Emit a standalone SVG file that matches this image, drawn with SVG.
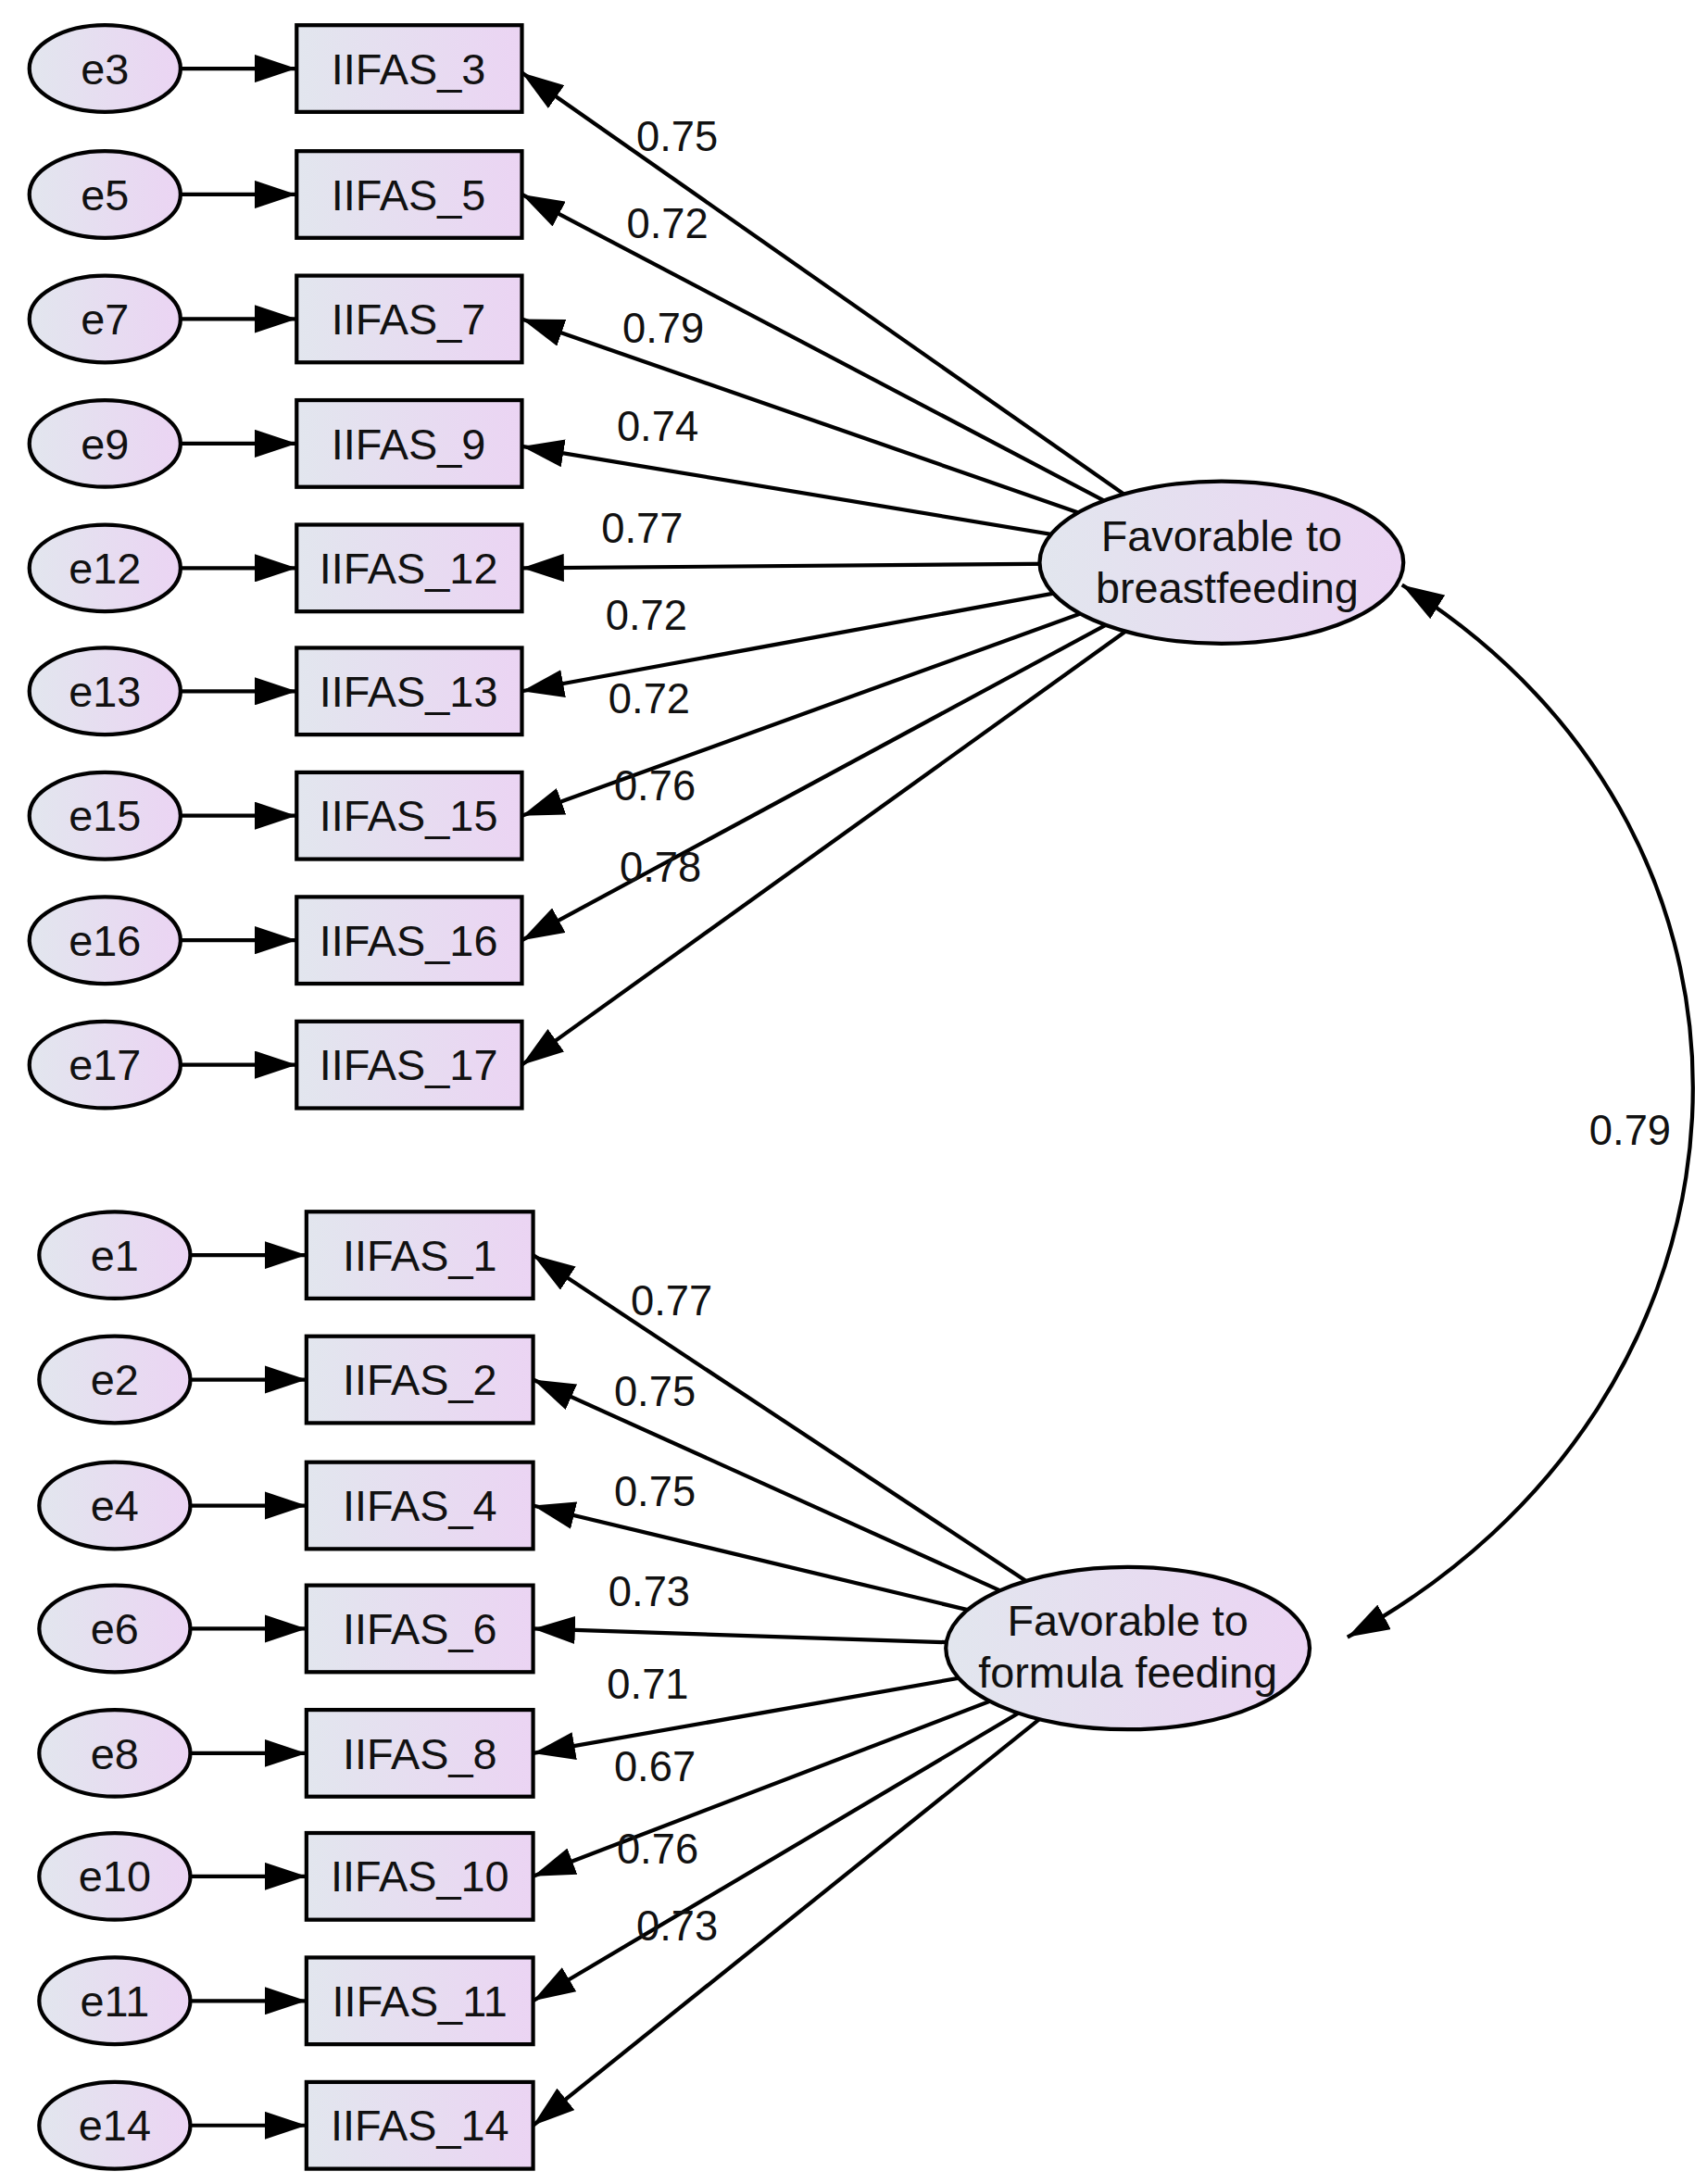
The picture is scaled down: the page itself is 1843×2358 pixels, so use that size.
<svg xmlns="http://www.w3.org/2000/svg" width="1843" height="2358" viewBox="0 0 1843 2358">
<defs>
<linearGradient id="gr" x1="0" y1="0" x2="1" y2="0"><stop offset="0" stop-color="#e2e6ee"/><stop offset="1" stop-color="#ebd4f3"/></linearGradient>
<marker id="ar" viewBox="0 0 30 20" refX="30" refY="10" markerWidth="30" markerHeight="20" markerUnits="userSpaceOnUse" orient="auto-start-reverse"><path d="M0,0 L30,10 L0,20 Z" fill="#000"/></marker>
<style>
.n{fill:url(#gr);stroke:#000;stroke-width:2.8}
.t{font-family:"Liberation Sans",Arial,sans-serif;font-size:31px;fill:#111;text-anchor:middle}
.l{font-family:"Liberation Sans",Arial,sans-serif;font-size:30px;fill:#111;text-anchor:middle}
.c{stroke:#000;stroke-width:2.8;fill:none;marker-end:url(#ar)}
</style>
</defs>
<rect width="1843" height="2358" fill="#fff"/>
<g transform="scale(1.5107)">
<g id="connectors">
<path class="c" d="M129,49H212"/><path class="c" d="M129,139H212"/><path class="c" d="M129,228H212"/><path class="c" d="M129,317H212"/><path class="c" d="M129,406H212"/><path class="c" d="M129,494H212"/><path class="c" d="M129,583H212"/><path class="c" d="M129,672H212"/><path class="c" d="M129,761H212"/>
<path class="c" d="M136,897H219"/><path class="c" d="M136,986H219"/><path class="c" d="M136,1076H219"/><path class="c" d="M136,1164H219"/><path class="c" d="M136,1253H219"/><path class="c" d="M136,1341H219"/><path class="c" d="M136,1430H219"/><path class="c" d="M136,1519H219"/>
<path class="c" d="M873,402L373,52"/><path class="c" d="M873,402L373,139"/><path class="c" d="M873,402L373,228"/><path class="c" d="M873,402L373,319"/><path class="c" d="M873,402L373,406"/><path class="c" d="M873,402L373,494"/><path class="c" d="M873,402L373,583"/><path class="c" d="M873,402L373,672"/><path class="c" d="M873,402L373,761"/>
<path class="c" d="M806,1178L381,897"/><path class="c" d="M806,1178L381,986"/><path class="c" d="M806,1178L381,1076"/><path class="c" d="M806,1178L381,1164"/><path class="c" d="M806,1178L381,1253"/><path class="c" d="M806,1178L381,1341"/><path class="c" d="M806,1178L381,1430"/><path class="c" d="M806,1178L381,1519"/>
<path class="c" style="marker-start:url(#ar)" d="M1002,418C1295,600 1275,1000 963,1170"/>
</g>
<g id="labels">
<text class="l" x="484" y="108">0.75</text><text class="l" x="477" y="170">0.72</text><text class="l" x="474" y="245">0.79</text><text class="l" x="470" y="315">0.74</text><text class="l" x="459" y="388">0.77</text><text class="l" x="462" y="450">0.72</text><text class="l" x="464" y="510">0.72</text><text class="l" x="468" y="572">0.76</text><text class="l" x="472" y="630">0.78</text>
<text class="l" x="480" y="940">0.77</text><text class="l" x="468" y="1005">0.75</text><text class="l" x="468" y="1076">0.75</text><text class="l" x="464" y="1148">0.73</text><text class="l" x="463" y="1214">0.71</text><text class="l" x="468" y="1273">0.67</text><text class="l" x="470" y="1332">0.76</text><text class="l" x="484" y="1387">0.73</text>
<text class="l" x="1165" y="818">0.79</text>
</g>
<g id="f1"><ellipse class="n" cx="873" cy="402" rx="130" ry="58"/><text class="t" x="873" y="394">Favorable to</text><text class="t" x="877" y="431">breastfeeding</text></g>
<g id="f2"><ellipse class="n" cx="806" cy="1178" rx="130" ry="58"/><text class="t" x="806" y="1169">Favorable to</text><text class="t" x="806" y="1206">formula feeding</text></g>
<g id="e3"><ellipse class="n" cx="75" cy="49" rx="54" ry="31"/><text class="t" x="75" y="60">e3</text></g>
<g id="e5"><ellipse class="n" cx="75" cy="139" rx="54" ry="31"/><text class="t" x="75" y="150">e5</text></g>
<g id="e7"><ellipse class="n" cx="75" cy="228" rx="54" ry="31"/><text class="t" x="75" y="239">e7</text></g>
<g id="e9"><ellipse class="n" cx="75" cy="317" rx="54" ry="31"/><text class="t" x="75" y="328">e9</text></g>
<g id="e12"><ellipse class="n" cx="75" cy="406" rx="54" ry="31"/><text class="t" x="75" y="417">e12</text></g>
<g id="e13"><ellipse class="n" cx="75" cy="494" rx="54" ry="31"/><text class="t" x="75" y="505">e13</text></g>
<g id="e15"><ellipse class="n" cx="75" cy="583" rx="54" ry="31"/><text class="t" x="75" y="594">e15</text></g>
<g id="e16"><ellipse class="n" cx="75" cy="672" rx="54" ry="31"/><text class="t" x="75" y="683">e16</text></g>
<g id="e17"><ellipse class="n" cx="75" cy="761" rx="54" ry="31"/><text class="t" x="75" y="772">e17</text></g>
<g id="e1"><ellipse class="n" cx="82" cy="897" rx="54" ry="31"/><text class="t" x="82" y="908">e1</text></g>
<g id="e2"><ellipse class="n" cx="82" cy="986" rx="54" ry="31"/><text class="t" x="82" y="997">e2</text></g>
<g id="e4"><ellipse class="n" cx="82" cy="1076" rx="54" ry="31"/><text class="t" x="82" y="1087">e4</text></g>
<g id="e6"><ellipse class="n" cx="82" cy="1164" rx="54" ry="31"/><text class="t" x="82" y="1175">e6</text></g>
<g id="e8"><ellipse class="n" cx="82" cy="1253" rx="54" ry="31"/><text class="t" x="82" y="1264">e8</text></g>
<g id="e10"><ellipse class="n" cx="82" cy="1341" rx="54" ry="31"/><text class="t" x="82" y="1352">e10</text></g>
<g id="e11"><ellipse class="n" cx="82" cy="1430" rx="54" ry="31"/><text class="t" x="82" y="1441">e11</text></g>
<g id="e14"><ellipse class="n" cx="82" cy="1519" rx="54" ry="31"/><text class="t" x="82" y="1530">e14</text></g>
<g id="v3"><rect class="n" x="212" y="18" width="161" height="62"/><text class="t" x="292" y="60">IIFAS_3</text></g>
<g id="v5"><rect class="n" x="212" y="108" width="161" height="62"/><text class="t" x="292" y="150">IIFAS_5</text></g>
<g id="v7"><rect class="n" x="212" y="197" width="161" height="62"/><text class="t" x="292" y="239">IIFAS_7</text></g>
<g id="v9"><rect class="n" x="212" y="286" width="161" height="62"/><text class="t" x="292" y="328">IIFAS_9</text></g>
<g id="v12"><rect class="n" x="212" y="375" width="161" height="62"/><text class="t" x="292" y="417">IIFAS_12</text></g>
<g id="v13"><rect class="n" x="212" y="463" width="161" height="62"/><text class="t" x="292" y="505">IIFAS_13</text></g>
<g id="v15"><rect class="n" x="212" y="552" width="161" height="62"/><text class="t" x="292" y="594">IIFAS_15</text></g>
<g id="v16"><rect class="n" x="212" y="641" width="161" height="62"/><text class="t" x="292" y="683">IIFAS_16</text></g>
<g id="v17"><rect class="n" x="212" y="730" width="161" height="62"/><text class="t" x="292" y="772">IIFAS_17</text></g>
<g id="v1"><rect class="n" x="219" y="866" width="162" height="62"/><text class="t" x="300" y="908">IIFAS_1</text></g>
<g id="v2"><rect class="n" x="219" y="955" width="162" height="62"/><text class="t" x="300" y="997">IIFAS_2</text></g>
<g id="v4"><rect class="n" x="219" y="1045" width="162" height="62"/><text class="t" x="300" y="1087">IIFAS_4</text></g>
<g id="v6"><rect class="n" x="219" y="1133" width="162" height="62"/><text class="t" x="300" y="1175">IIFAS_6</text></g>
<g id="v8"><rect class="n" x="219" y="1222" width="162" height="62"/><text class="t" x="300" y="1264">IIFAS_8</text></g>
<g id="v10"><rect class="n" x="219" y="1310" width="162" height="62"/><text class="t" x="300" y="1352">IIFAS_10</text></g>
<g id="v11"><rect class="n" x="219" y="1399" width="162" height="62"/><text class="t" x="300" y="1441">IIFAS_11</text></g>
<g id="v14"><rect class="n" x="219" y="1488" width="162" height="62"/><text class="t" x="300" y="1530">IIFAS_14</text></g>
</g>
</svg>
